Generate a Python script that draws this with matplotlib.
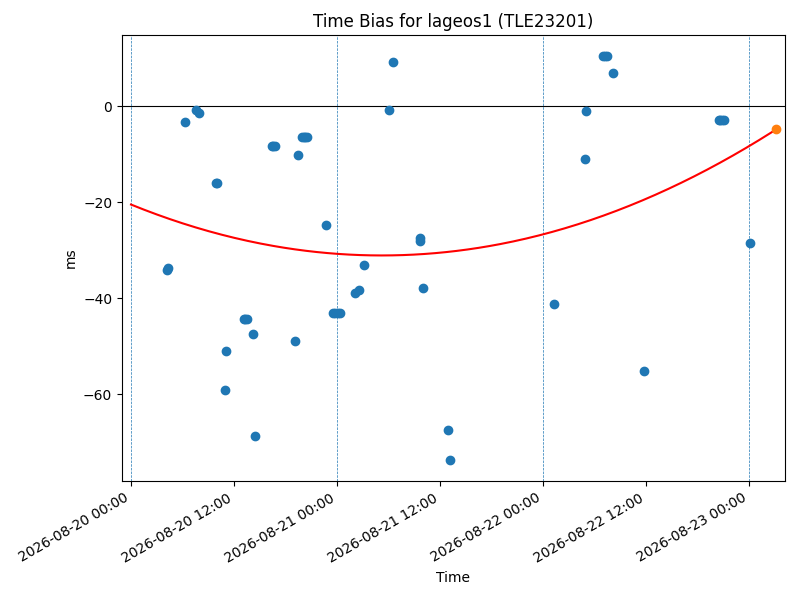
import numpy as np
import pandas as pd
import matplotlib
matplotlib.use("Agg")
import matplotlib.pyplot as plt
import matplotlib.dates as mdates

# Observed time-bias samples (ms)
obs_times = [
    "2026-08-20 04:14", "2026-08-20 04:19", "2026-08-20 06:20", "2026-08-20 07:37",
    "2026-08-20 07:58", "2026-08-20 09:52", "2026-08-20 09:58", "2026-08-20 11:04",
    "2026-08-20 10:59", "2026-08-20 13:10", "2026-08-20 13:20", "2026-08-20 13:30",
    "2026-08-20 14:15", "2026-08-20 14:27", "2026-08-20 16:25", "2026-08-20 16:35",
    "2026-08-20 16:45", "2026-08-20 19:09", "2026-08-20 19:30", "2026-08-20 19:58",
    "2026-08-20 20:08", "2026-08-20 20:18", "2026-08-20 20:28", "2026-08-20 22:46",
    "2026-08-20 23:36", "2026-08-20 23:50", "2026-08-21 00:05", "2026-08-21 00:20",
    "2026-08-21 02:06", "2026-08-21 02:36", "2026-08-21 03:12", "2026-08-21 06:06",
    "2026-08-21 06:34", "2026-08-21 09:42", "2026-08-21 09:44", "2026-08-21 10:00",
    "2026-08-21 12:54", "2026-08-21 13:12", "2026-08-22 01:18", "2026-08-22 05:03",
    "2026-08-22 04:54", "2026-08-22 07:00", "2026-08-22 07:14", "2026-08-22 07:28",
    "2026-08-22 08:12", "2026-08-22 11:48", "2026-08-22 20:30", "2026-08-22 20:42",
    "2026-08-22 20:54", "2026-08-22 21:06", "2026-08-23 00:09",
]
obs_bias = [
    -34.1, -33.8, -3.3, -0.8,
    -1.5, -16.0, -16.1, -51.0,
    -59.2, -44.3, -44.3, -44.3,
    -47.4, -68.6, -8.3, -8.3,
    -8.3, -48.9, -10.1, -6.5,
    -6.5, -6.5, -6.5, -24.7,
    -43.0, -43.0, -43.0, -43.0,
    -39.0, -38.2, -33.0, -0.8,
    9.1, -27.4, -28.1, -37.8,
    -67.5, -73.7, -41.3, -1.0,
    -11.0, 10.4, 10.4, 10.4,
    6.8, -55.1, -3.0, -3.0,
    -3.0, -3.0, -28.6,
]

# Latest (predicted) point
latest_time = ["2026-08-23 03:12"]
latest_bias = [-4.8]

# Quadratic fit curve, anchored by values
fit_anchor_times = ["2026-08-20 00:00", "2026-08-21 05:24", "2026-08-23 03:12"]
fit_anchor_bias = [-20.5, -31.1, -4.85]

day_lines = ["2026-08-20", "2026-08-21", "2026-08-22", "2026-08-23"]

t_obs = pd.to_datetime(obs_times)
t_last = pd.to_datetime(latest_time)
t_anchor = pd.to_datetime(fit_anchor_times)

x_anchor = mdates.date2num(t_anchor)
coef = np.polyfit(x_anchor - x_anchor[0], fit_anchor_bias, 2)
x_fit = np.linspace(x_anchor[0], x_anchor[-1], 300)
y_fit = np.polyval(coef, x_fit - x_anchor[0])

fig = plt.figure(figsize=(8, 6), dpi=100)
ax = fig.add_subplot(111)

ax.scatter(t_obs, obs_bias, color="C0", s=36, zorder=3)
ax.plot(mdates.num2date(x_fit), y_fit, color="red", linewidth=1.5, zorder=2)
ax.scatter(t_last, latest_bias, color="C1", s=36, zorder=4)

ax.axhline(0, color="black", linewidth=0.8, zorder=1)
for d in pd.to_datetime(day_lines):
    ax.axvline(d, color="C0", linestyle="--", linewidth=0.5, zorder=1)

ax.set_xlim(pd.Timestamp("2026-08-19 22:57"), pd.Timestamp("2026-08-23 04:12"))
ax.set_ylim(-78.1, 14.8)

ax.xaxis.set_major_locator(mdates.HourLocator(byhour=[0, 12]))
ax.xaxis.set_major_formatter(mdates.DateFormatter("%Y-%m-%d %H:%M"))
for lbl in ax.get_xticklabels():
    lbl.set_rotation(30)
    lbl.set_ha("right")

ax.set_title("Time Bias for lageos1 (TLE23201)")
ax.set_xlabel("Time")
ax.set_ylabel("ms")

fig.subplots_adjust(left=0.1525, right=0.981, top=0.9417, bottom=0.198)
fig.savefig("out.png", dpi=100)
